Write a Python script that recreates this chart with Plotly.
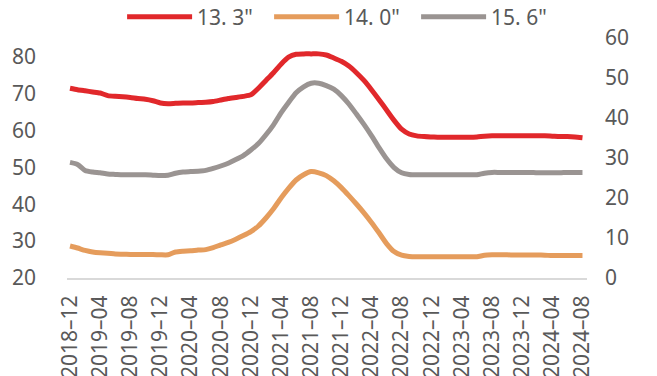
import plotly.graph_objects as go

# Monthly periods, Dec 2018 through Aug 2024
months = [f"{2018 + (11 + k) // 12}-{(11 + k) % 12 + 1:02d}" for k in range(69)]
tick_months = months[::4]
tick_labels = [m.replace("-", "\u2013") for m in tick_months]

series_names = ['13. 3"', '14. 0"', '15. 6"']

# 13.3" (left axis)
size_133 = [
    71.4, 71.0, 70.7, 70.4, 70.1, 69.4, 69.2, 69.1, 68.9, 68.6,
    68.4, 68.0, 67.4, 67.2, 67.3, 67.4, 67.4, 67.5, 67.6, 67.8,
    68.2, 68.6, 68.9, 69.2, 69.6, 71.4, 73.5, 75.6, 77.9, 79.8,
    80.6, 80.7, 80.7, 80.7, 80.4, 79.6, 78.7, 77.4, 75.6, 73.5,
    71.0, 68.3, 65.5, 62.7, 60.3, 59.0, 58.5, 58.3, 58.2, 58.1,
    58.1, 58.1, 58.1, 58.1, 58.2, 58.4, 58.5, 58.5, 58.5, 58.5,
    58.5, 58.5, 58.5, 58.5, 58.4, 58.3, 58.3, 58.2, 58.0,
]

# 14.0" (right axis)
size_140 = [
    8.0, 7.5, 6.9, 6.5, 6.3, 6.2, 6.0, 5.95, 5.9, 5.9,
    5.9, 5.85, 5.8, 5.8, 6.5, 6.7, 6.8, 7.0, 7.1, 7.6,
    8.3, 8.9, 9.7, 10.6, 11.6, 13.0, 15.0, 17.3, 20.0, 22.4,
    24.5, 25.8, 26.6, 26.3, 25.6, 24.3, 22.6, 20.6, 18.5, 16.3,
    13.9, 11.3, 8.6, 6.6, 5.7, 5.4, 5.3, 5.3, 5.3, 5.3,
    5.3, 5.3, 5.3, 5.3, 5.3, 5.7, 5.8, 5.8, 5.8, 5.75,
    5.75, 5.75, 5.75, 5.7, 5.6, 5.6, 5.6, 5.6, 5.6,
]

# 15.6" (right axis)
size_156 = [
    28.9, 28.4, 26.9, 26.5, 26.3, 26.0, 25.9, 25.8, 25.8, 25.8,
    25.8, 25.7, 25.6, 25.7, 26.2, 26.5, 26.6, 26.7, 26.9, 27.4,
    28.0, 28.7, 29.6, 30.6, 32.0, 33.6, 35.8, 38.3, 41.3, 43.9,
    46.3, 47.8, 48.7, 48.7, 48.1, 47.2, 45.6, 43.5, 41.0, 38.4,
    35.6, 32.6, 29.8, 27.6, 26.3, 25.9, 25.8, 25.8, 25.8, 25.8,
    25.8, 25.8, 25.8, 25.8, 25.8, 26.2, 26.4, 26.4, 26.4, 26.4,
    26.4, 26.4, 26.3, 26.3, 26.3, 26.3, 26.4, 26.4, 26.4,
]

colors = ["#E1282B", "#E59C5C", "#9A9492"]
text_color = "#595959"
font_family = "Noto Sans, Liberation Sans, Arial, sans-serif"

fig = go.Figure()
fig.add_trace(go.Scatter(
    x=months, y=size_133, name=series_names[0], mode="lines",
    line=dict(color=colors[0], width=5, shape="spline", smoothing=0.6),
    yaxis="y",
))
fig.add_trace(go.Scatter(
    x=months, y=size_140, name=series_names[1], mode="lines",
    line=dict(color=colors[1], width=5, shape="spline", smoothing=0.6),
    yaxis="y2",
))
fig.add_trace(go.Scatter(
    x=months, y=size_156, name=series_names[2], mode="lines",
    line=dict(color=colors[2], width=5, shape="spline", smoothing=0.6),
    yaxis="y2",
))

fig.update_layout(
    width=657, height=376,
    margin=dict(l=67, r=70, t=38, b=98, autoexpand=False),
    paper_bgcolor="white", plot_bgcolor="white",
    font=dict(family=font_family, size=21, color=text_color),
    showlegend=True,
    legend=dict(
        orientation="h", x=0.53, xanchor="center", y=1.0875, yanchor="middle",
        font=dict(size=21, color=text_color), itemwidth=65,
        entrywidth=67, entrywidthmode="pixels",
        bgcolor="rgba(0,0,0,0)",
    ),
    xaxis=dict(
        type="category", categoryorder="array", categoryarray=months,
        range=[-0.4, 68.6],
        tickmode="array", tickvals=tick_months, ticktext=tick_labels,
        tickangle=-90, ticks="", ticklabelstandoff=7,
        showgrid=False, zeroline=False,
        showline=True, linecolor="#D9D9D9", linewidth=2,
        tickfont=dict(size=21, color=text_color),
        automargin=False,
    ),
    yaxis=dict(
        range=[20, 85], tickmode="array", tickvals=[20, 30, 40, 50, 60, 70, 80],
        showgrid=False, zeroline=False, showline=False, ticks="",
        ticklabelstandoff=30,
        tickfont=dict(size=21, color=text_color),
        automargin=False,
    ),
    yaxis2=dict(
        range=[0, 60], tickmode="array", tickvals=[0, 10, 20, 30, 40, 50, 60],
        overlaying="y", side="right",
        showgrid=False, zeroline=False, showline=False, ticks="",
        ticklabelstandoff=17,
        tickfont=dict(size=21, color=text_color),
        automargin=False,
    ),
)

fig.write_html("out.html")
